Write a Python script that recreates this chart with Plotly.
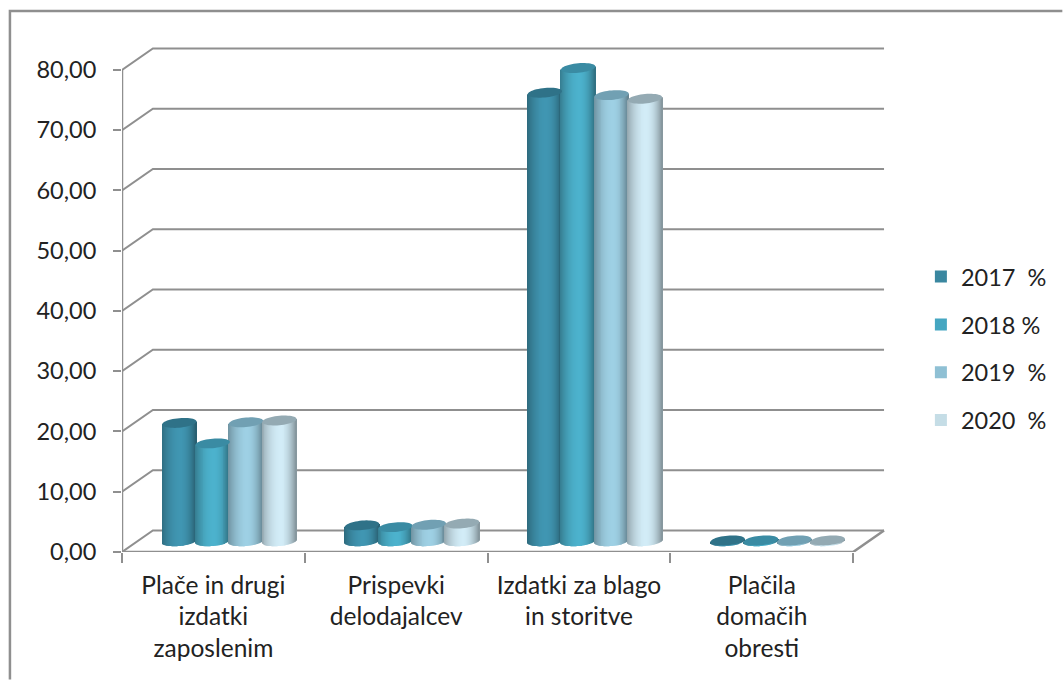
import math
import plotly.graph_objects as go

categories = ["Plače in drugi<br>izdatki<br>zaposlenim", "Prispevki<br>delodajalcev",
              "Izdatki za blago<br>in storitve", "Plačila<br>domačih<br>obresti"]
series_names = ["2017  %", "2018 %", "2019  %", "2020  %"]
v2017 = [19.6, 2.6, 74.4, 0.1]
v2018 = [16.2, 2.3, 78.5, 0.1]
v2019 = [19.7, 2.7, 74.0, 0.1]
v2020 = [20.0, 2.9, 73.4, 0.1]
series_values = [v2017, v2018, v2019, v2020]
flat_colors = ["#3a87a0", "#45a6c1", "#8fc0d4", "#c5dde6"]
body_colors = [(64, 150, 178), (76, 178, 205), (158, 208, 228), (210, 236, 247)]
top_colors = ["#2f7288", "#3a8ba3", "#71a0b3", "#94aab3"]
y_ticks_step = 10

W, H = 1064, 682
L, R_PX, T, B = 122, 895, 40, 552.5
GROUP_PX = 183.5
PX_PER_UNIT = (552.5 - 70) / 80.0
x_max = (R_PX - L) / GROUP_PX
y_max = (B - T) / PX_PER_UNIT
DX = 31 / GROUP_PX          # depth shift of the back wall
DY = 21.5 / PX_PER_UNIT
CX_SHIFT = 16 / GROUP_PX    # cylinders stand mid-depth
BASE = 11 / PX_PER_UNIT
STEP = 33.5 / GROUP_PX
RW = 17.2 / GROUP_PX
RH = 5.0 / PX_PER_UNIT
TILT = 1.5 / PX_PER_UNIT
GRAY = "#8f8f8f"
FONT = "Lato"
TEXT = "#222222"
N = 36


def shade(rgb, t):
    # light falloff across the cylinder; t runs from -1 (left) to 1 (right)
    if t < 0.1:
        f = 0.70 + 0.30 * (1 - ((0.1 - t) / 1.1) ** 2)
    else:
        f = 0.62 + 0.38 * (1 - ((t - 0.1) / 0.9) ** 2)
    return "rgb(%d,%d,%d)" % tuple(round(c * f) for c in rgb)


fig = go.Figure()
shapes = []


def px(xp):
    return (xp - L) / (R_PX - L)


def py(yp):
    return (B - yp) / (B - T)


# outer frame
shapes.append(dict(type="path", xref="paper", yref="paper", layer="below",
                   path=f"M {px(9.5)},{py(680)} L {px(9.5)},{py(11)} L {px(1066)},{py(11)}",
                   line=dict(color=GRAY, width=2.5)))

# walls and floor
for v in range(0, 81, y_ticks_step):
    shapes.append(dict(type="path", xref="x", yref="y", layer="below",
                       path=f"M 0,{v} L {DX},{v + DY} L {4 + DX},{v + DY}",
                       line=dict(color=GRAY, width=2)))
shapes.append(dict(type="path", xref="x", yref="y", layer="below",
                   path=f"M 0,80 L 0,0 L 4,0 L {4 + DX},{DY}",
                   line=dict(color=GRAY, width=2.5)))

for s, (name, vals) in enumerate(zip(series_names, series_values)):
    xs, ys, bases, widths, cols = [], [], [], [], []
    for g, v in enumerate(vals):
        cx = g + 0.5 + CX_SHIFT + (s - 1.5) * STEP
        for i in range(N):
            t = -1 + (i + 0.5) * 2 / N
            b = BASE + TILT * t - RH * math.sqrt(max(0, 1 - t * t))
            xs.append(cx + t * RW)
            bases.append(b)
            ys.append(BASE + v + TILT * t - b)
            widths.append(RW * 2 / N * 1.25)
            cols.append(shade(body_colors[s], t))
        pts = []
        for k in range(48):
            a = 2 * math.pi * k / 48
            pts.append((cx + RW * math.cos(a), BASE + v + TILT * math.cos(a) + RH * 0.95 * math.sin(a)))
        path = "M " + " L ".join(f"{a:.4f},{b:.4f}" for a, b in pts) + " Z"
        shapes.append(dict(type="path", xref="x", yref="y", layer="above", path=path,
                           fillcolor=top_colors[s], line=dict(width=0)))
    fig.add_trace(go.Bar(x=xs, y=ys, base=bases, width=widths, showlegend=False,
                         marker=dict(color=cols, line=dict(width=0)), hoverinfo="skip"))

for name, col in zip(series_names, flat_colors):
    fig.add_trace(go.Bar(x=[None], y=[None], name=name, legendgroup=name,
                         marker=dict(color=col, line=dict(width=0))))

fig.update_layout(
    width=W, height=H, autosize=False,
    paper_bgcolor="white", plot_bgcolor="rgba(0,0,0,0)",
    margin=dict(l=L, r=W - R_PX, t=T, b=H - B, pad=0),
    barmode="overlay", separators=",.",
    font=dict(family=FONT, size=24, color=TEXT),
    shapes=shapes,
    legend=dict(x=px(924), xanchor="left", y=py(255), yanchor="top",
                tracegroupgap=14.3, traceorder="grouped", bgcolor="rgba(0,0,0,0)",
                font=dict(family=FONT, size=23.5, color=TEXT)),
    xaxis=dict(range=[0, x_max], tickmode="array", tickvals=[0.5, 1.5, 2.5, 3.5], ticktext=categories,
               ticks="", showgrid=False, zeroline=False, showline=False, ticklabelstandoff=16,
               tickfont=dict(size=24.5),
               minor=dict(ticks="outside", ticklen=10, tickwidth=2, tickcolor=GRAY, tick0=0, dtick=1, showgrid=False)),
    yaxis=dict(range=[0, y_max], tick0=0, dtick=y_ticks_step, tickformat=".2f",
               ticks="outside", ticklen=8, tickwidth=2, tickcolor=GRAY, ticklabelstandoff=12,
               tickfont=dict(size=23.5),
               showgrid=False, zeroline=False, showline=False),
)
fig.write_html("out.html", config=dict(displayModeBar=False),
               post_script="document.documentElement.style.overflow='hidden';document.body.style.margin='0';")
